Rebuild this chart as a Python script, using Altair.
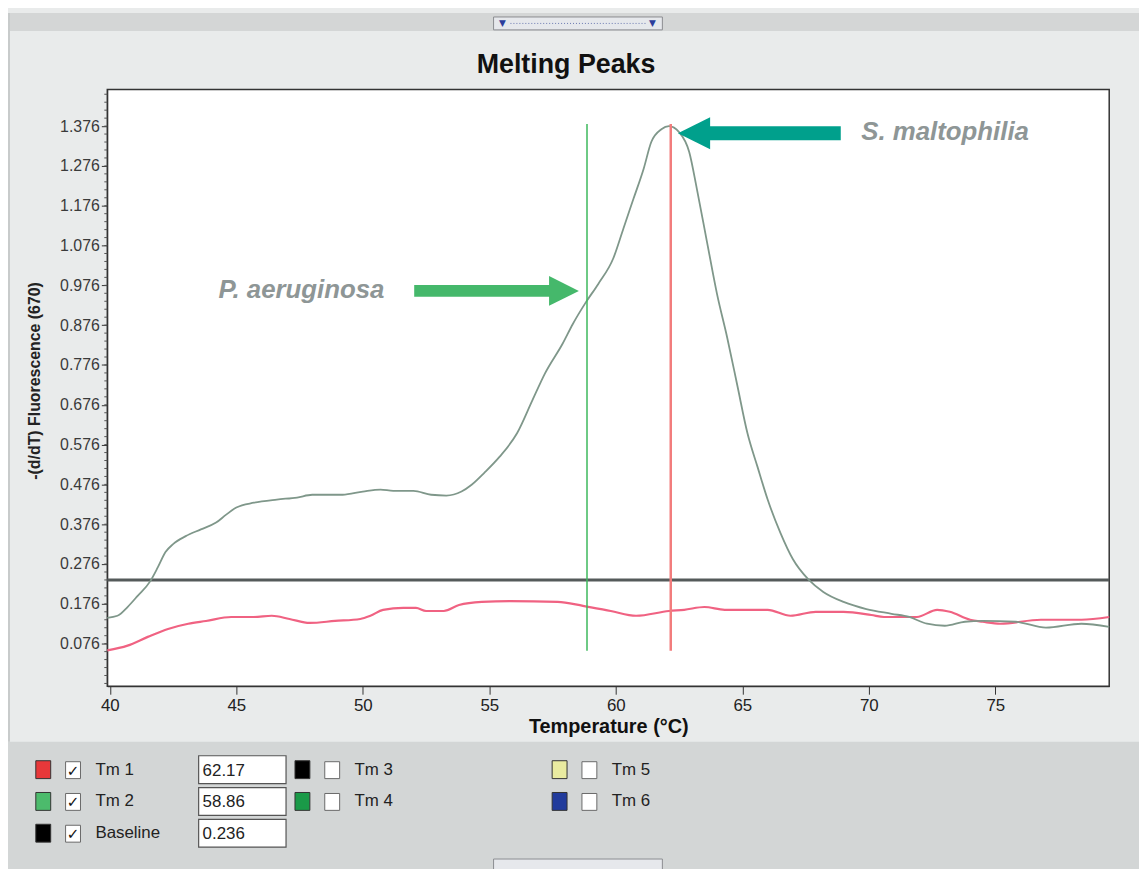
import altair as alt
import pandas as pd

# ---------------- data ----------------
sample_temp = [39.9, 40.3, 40.7, 41.1, 41.6, 41.9, 42.2, 42.5, 43.0, 43.6, 44.2, 44.6,
               45.0, 45.7, 46.6, 47.4, 48.0, 49.2, 50.0, 50.7, 51.2, 52.0, 52.7, 53.3,
               53.9, 54.3, 54.8, 55.4, 56.1, 56.7, 57.2, 57.9, 58.3, 58.8, 59.3, 59.9,
               60.3, 60.7, 61.1, 61.4, 61.8, 62.1, 62.5, 62.9, 63.2, 63.6, 64.0, 64.4,
               64.8, 65.2, 65.6, 66.0, 66.5, 67.0, 67.6, 68.2, 69.0, 69.9, 70.9, 71.6,
               72.3, 73.0, 73.8, 74.5, 75.8, 77.0, 78.4, 79.5]
sample_value = [0.141, 0.146, 0.168, 0.196, 0.233, 0.268, 0.306, 0.326, 0.346, 0.363, 0.380, 0.400,
                0.418, 0.430, 0.438, 0.443, 0.450, 0.450, 0.458, 0.463, 0.460, 0.460, 0.450, 0.448,
                0.458, 0.475, 0.505, 0.545, 0.605, 0.687, 0.755, 0.830, 0.879, 0.932, 0.979, 1.044,
                1.119, 1.194, 1.269, 1.336, 1.368, 1.376, 1.361, 1.311, 1.219, 1.086, 0.954, 0.845,
                0.725, 0.605, 0.520, 0.438, 0.355, 0.288, 0.238, 0.206, 0.181, 0.163, 0.151, 0.143,
                0.126, 0.121, 0.131, 0.133, 0.131, 0.116, 0.126, 0.118]

neg_temp = [39.9, 40.7, 41.5, 42.3, 43.1, 43.8, 44.8, 45.7, 46.4, 47.1, 47.9, 48.9,
            49.9, 50.3, 50.8, 51.6, 52.1, 52.5, 53.2, 53.8, 54.7, 55.8, 57.7, 58.7,
            59.8, 60.8, 62.1, 62.7, 63.5, 64.3, 66.0, 66.9, 67.9, 69.0, 70.1, 70.6,
            71.9, 72.7, 73.2, 74.0, 74.5, 75.2, 76.8, 78.4, 79.5]
neg_value = [0.059, 0.071, 0.093, 0.113, 0.126, 0.133, 0.143, 0.143, 0.146, 0.138, 0.128, 0.133,
             0.138, 0.146, 0.161, 0.166, 0.166, 0.158, 0.158, 0.173, 0.181, 0.183, 0.181, 0.171,
             0.158, 0.146, 0.158, 0.161, 0.168, 0.161, 0.161, 0.146, 0.156, 0.156, 0.148, 0.143,
             0.143, 0.161, 0.156, 0.136, 0.131, 0.126, 0.136, 0.136, 0.143]

tm_names = ["Tm 1", "Tm 2"]
tm_temps = [62.17, 58.86]
tm_line_low = 0.058
tm_line_high = 1.381
baseline_value = 0.236

x_tick_values = [40, 45, 50, 55, 60, 65, 70, 75]
y_tick_values = [0.076, 0.176, 0.276, 0.376, 0.476, 0.576, 0.676, 0.776,
                 0.876, 0.976, 1.076, 1.176, 1.276, 1.376]
y_minor_values = [round(-0.024 + 0.02 * k, 3) for k in range(75)]

annot_text = ["P. aeruginosa", "S. maltophilia"]
annot_temp = [44.3, 69.7]
annot_value = [0.964, 1.361]
arrow_from = [52.03, 68.89]
arrow_to = [57.48, 63.60]
arrow_head_temp = [57.95, 63.09]
arrow_value = [0.962, 1.358]
arrow_colors = ["#45b86b", "#00a08c"]

legend_names = ["Tm 1", "Tm 2", "Baseline", "Tm 3", "Tm 4", "Tm 5", "Tm 6"]
legend_colors = ["#e8383a", "#4cbb6c", "#000000", "#000000", "#1a9a48", "#e9eba0", "#213b9c"]
legend_checked = [True, True, True, False, False, False, False]
legend_boxes = ["62.17", "58.86", "0.236"]

# ---------------- styling / layout ----------------
FONT = "Liberation Sans, Arial, sans-serif"
FONT_N = "Liberation Sans Narrow, Arial Narrow, Liberation Sans, sans-serif"
OX, OY = 108, 87          # page position of the plot area's top-left corner
W, H = 1009, 601
XDOM = [39.9, 79.5]
YDOM = [-0.031, 1.468]

ONE = pd.DataFrame({"k": [0]})

xs = alt.Scale(domain=XDOM, nice=False, zero=False)
ys = alt.Scale(domain=YDOM, nice=False, zero=False)


def prect(x0, y0, x1, y1, **mk):
    return alt.Chart(ONE).mark_rect(**mk).encode(
        x=alt.value(x0 - OX), x2=alt.value(x1 - OX),
        y=alt.value(y0 - OY), y2=alt.value(y1 - OY))


def ptext(px, py, s, size=16, color="#222222", font=FONT, weight="normal", align="left", **mk):
    return alt.Chart(ONE).mark_text(text=s, fontSize=size, color=color, font=font,
                                    fontWeight=weight, align=align, baseline="middle", **mk).encode(
        x=alt.value(px - OX), y=alt.value(py - OY))


layers = []

# panel backgrounds
layers.append(prect(8, 10, 1147, 28, fill="#d4d6d6"))
layers.append(prect(8, 744, 1147, 880, fill="#d3d6d6"))
layers.append(prect(8, 10, 10, 744, fill="#c8cbcb"))
# top toggle button
layers.append(prect(497, 14, 667, 27, fill="#e6e8ec", stroke="#8a8c90", strokeWidth=1))
layers.append(alt.Chart(ONE).mark_rule(color="#6a78b0", strokeDash=[1, 2], strokeWidth=1).encode(
    x=alt.value(514 - OX), x2=alt.value(650 - OX), y=alt.value(20.5 - OY)))
layers.append(ptext(506, 20, "▼", size=9, color="#2c3e9c", font="DejaVu Sans", align="center"))
layers.append(ptext(657, 20, "▼", size=9, color="#2c3e9c", font="DejaVu Sans", align="center"))
# bottom toggle button (cut off)
layers.append(prect(497, 862, 667, 880, fill="#e6e8ec", stroke="#8a8c90", strokeWidth=1))

# title
layers.append(ptext(570, 62, "Melting Peaks", size=27, color="#111111", weight="bold", align="center"))

sample_df = pd.DataFrame({"temp": sample_temp, "value": sample_value})
neg_df = pd.DataFrame({"temp": neg_temp, "value": neg_value})

x_axis = alt.Axis(values=x_tick_values, format="d", title="Temperature (°C)",
                  labelFont=FONT_N, labelFontSize=17, labelColor="#222222",
                  tickColor="#333333", tickSize=8, domainColor="#333333", grid=False,
                  labelPadding=3, titleFont=FONT_N, titleFontSize=20, titleFontWeight="bold",
                  titleColor="#111111", titleY=41, titleBaseline="middle")
y_axis = alt.Axis(values=y_tick_values, format=".3f", title="-(d/dT) Fluorescence (670)",
                  labelFont=FONT, labelFontSize=16, labelColor="#3a3a3a",
                  tickColor="#333333", tickSize=6, domainColor="#333333", grid=False,
                  labelPadding=2, titleFont=FONT, titleFontSize=16, titleFontWeight="bold",
                  titleColor="#222222", titleAngle=270, titleX=-73, titleY=293,
                  titleAlign="center", titleBaseline="middle")

minor_df = pd.DataFrame({"value": [v for v in y_minor_values if YDOM[0] < v < YDOM[1]]})
layers.append(alt.Chart(minor_df).mark_rule(color="#555555", strokeWidth=1).encode(
    y=alt.Y("value:Q", scale=ys), x=alt.value(-3), x2=alt.value(0)))

layers.append(alt.Chart(pd.DataFrame({"value": [baseline_value]})).mark_rule(
    color="#555a5a", strokeWidth=3).encode(y=alt.Y("value:Q", scale=ys)))

layers.append(alt.Chart(neg_df).mark_line(color="#f06282", strokeWidth=2.2,
                                          interpolate="monotone").encode(
    x=alt.X("temp:Q", scale=xs), y=alt.Y("value:Q", scale=ys)))
layers.append(alt.Chart(sample_df).mark_line(color="#7f978a", strokeWidth=1.8,
                                             interpolate="monotone").encode(
    x=alt.X("temp:Q", scale=xs, axis=x_axis), y=alt.Y("value:Q", scale=ys, axis=y_axis)))

tm_df = pd.DataFrame({"temp": tm_temps, "value": [tm_line_low] * 2, "value2": [tm_line_high] * 2,
                      "name": tm_names})
layers.append(alt.Chart(tm_df).mark_rule().encode(
    x=alt.X("temp:Q", scale=xs), y=alt.Y("value:Q", scale=ys), y2="value2:Q",
    color=alt.Color("name:N", scale=alt.Scale(domain=tm_names, range=["#f27c7c", "#3db85c"]),
                    legend=None),
    strokeWidth=alt.StrokeWidth("name:N", scale=alt.Scale(domain=tm_names, range=[2.5, 1.5]),
                                legend=None)))

# arrows
shaft_widths = [12, 14]
head_sizes = [900, 1050]
head_shapes = ["M-1,-1L1,0L-1,1Z", "M1,-1L-1,0L1,1Z"]
for i in range(2):
    adf = pd.DataFrame({"temp": [arrow_from[i]], "temp2": [arrow_to[i]], "value": [arrow_value[i]]})
    layers.append(alt.Chart(adf).mark_rule(color=arrow_colors[i], strokeWidth=shaft_widths[i],
                                           strokeCap="butt").encode(
        x=alt.X("temp:Q", scale=xs), x2="temp2:Q", y=alt.Y("value:Q", scale=ys)))
    hdf = pd.DataFrame({"temp": [arrow_head_temp[i]], "value": [arrow_value[i]]})
    layers.append(alt.Chart(hdf).mark_point(shape=head_shapes[i], size=head_sizes[i], filled=True,
                                            opacity=1, color=arrow_colors[i], strokeWidth=0).encode(
        x=alt.X("temp:Q", scale=xs), y=alt.Y("value:Q", scale=ys)))

annot_df = pd.DataFrame({"temp": annot_temp, "value": annot_value, "label": annot_text})
layers.append(alt.Chart(annot_df).mark_text(align="left", baseline="middle", fontSize=26,
                                            fontStyle="italic", fontWeight="bold", font=FONT,
                                            color="#8e9696").encode(
    x=alt.X("temp:Q", scale=xs), y=alt.Y("value:Q", scale=ys), text="label:N"))

# ---------------- Tm legend panel ----------------
col_x = [36, 297, 297, 556]   # swatch left edge for column groups
slots = [(0, 0), (0, 1), (0, 2), (1, 0), (1, 1), (3, 0), (3, 1)]
row_y = [772, 804, 836]
for i, name in enumerate(legend_names):
    c, r = slots[i]
    sx = col_x[c]
    cy = row_y[r]
    layers.append(prect(sx, cy - 9, sx + 15, cy + 9, fill=legend_colors[i], stroke="#333333",
                        strokeWidth=1))
    bx = sx + 30
    layers.append(prect(bx, cy - 8, bx + 15, cy + 9, fill="#ffffff", stroke="#6a6a6a",
                        strokeWidth=1))
    if legend_checked[i]:
        layers.append(ptext(bx + 7.5, cy + 1, "✓", size=15, color="#111111", font="DejaVu Sans",
                            weight="bold", align="center"))
    layers.append(ptext(bx + 30, cy, name, size=17, color="#222222", font=FONT_N))

for r, val in enumerate(legend_boxes):
    cy = row_y[r]
    layers.append(prect(200, cy - 14, 288, cy + 14, fill="#ffffff", stroke="#555555",
                        strokeWidth=1.2))
    layers.append(ptext(204, cy + 1, val, size=17, color="#222222", font=FONT_N))

chart = alt.layer(*layers).properties(
    width=W, height=H,
    autosize=alt.AutoSizeParams(type="none"),
    padding={"left": OX - 8, "top": OY - 8, "right": 1147 - 8 - (OX - 8) - W,
             "bottom": 869 - 8 - (OY - 8) - H},
).configure(background="#e9ebeb").configure_view(fill="white", stroke="#333333", strokeWidth=1.5)

chart.save("out.html", embed_options={"renderer": "svg", "actions": False})
